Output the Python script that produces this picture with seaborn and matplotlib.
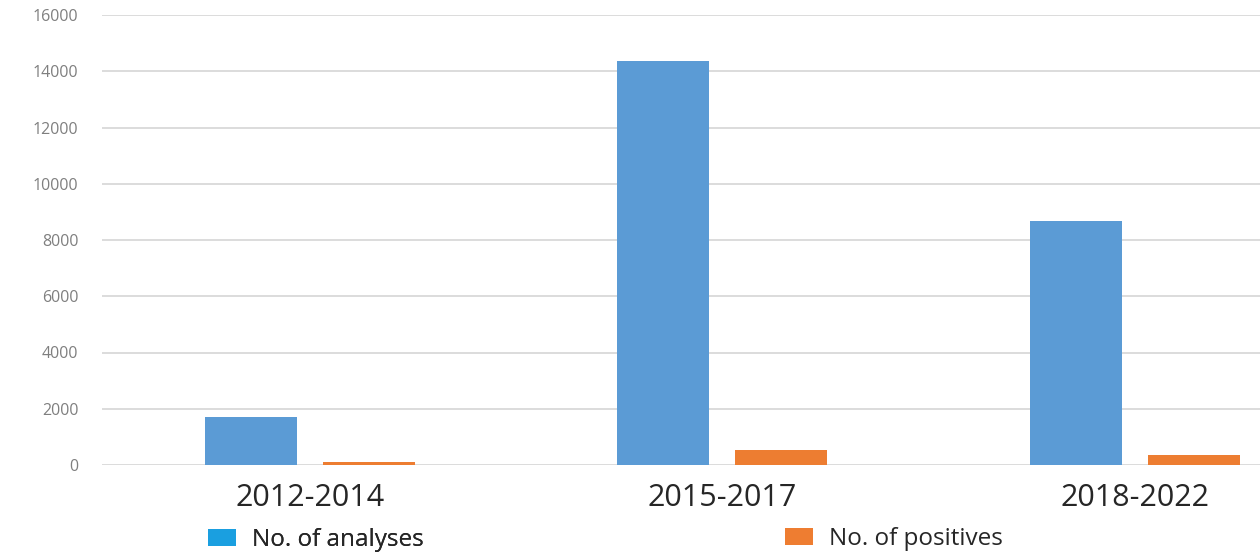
import matplotlib
matplotlib.use("Agg")
import matplotlib.pyplot as plt
from matplotlib.patches import Patch
import pandas as pd
import seaborn as sns

# Data
periods = ["2012-2014", "2015-2017", "2018-2022"]
series = ["No. of analyses", "No. of positives"]
analyses = [1690, 14350, 8680]
positives = [100, 530, 340]
y_ticks = [0, 2000, 4000, 6000, 8000, 10000, 12000, 14000, 16000]

bar_colors = ["#5b9bd5", "#ed7d31"]
legend_colors = ["#1a9fe0", "#ee7d31"]

df = pd.DataFrame({
    "period": periods * 2,
    "series": [series[0]] * 3 + [series[1]] * 3,
    "count": analyses + positives,
})

sns.set_theme(style="white")
plt.rcParams["font.family"] = ["Open Sans", "DejaVu Sans"]

fig = plt.figure(figsize=(12.6, 5.52), dpi=100)
ax = fig.add_axes([102 / 1260, 1 - 465 / 552, 1 - 102 / 1260, (465 - 15) / 552])

sns.barplot(data=df, x="period", y="count", hue="series", palette=bar_colors,
            width=0.572, gap=0.22, saturation=1, legend=False,
            linewidth=0, edgecolor="none", ax=ax)

ax.set_xlim(-0.504, 2.303)
ax.set_ylim(0, 16000)
ax.set_yticks(y_ticks)
ax.set_yticklabels([str(v) for v in y_ticks])
ax.yaxis.grid(True, color="#d9d9d9", linewidth=1.3)
ax.set_axisbelow(True)
for s in ax.spines.values():
    s.set_visible(False)
ax.set_xlabel("")
ax.set_ylabel("")
ax.tick_params(axis="y", length=0, pad=17, labelsize=11.5, labelcolor="#7f7f7f")
ax.tick_params(axis="x", length=0, pad=13, labelsize=22, labelcolor="#262626")

# Legend entries placed separately below the axis
common = dict(frameon=False, fontsize=17.5, handlelength=1.15, handleheight=0.7,
              handletextpad=0.65, labelcolor="#262626", borderpad=0,
              borderaxespad=0, loc="center left")
h1 = [Patch(facecolor=legend_colors[0], edgecolor="none")]
h2 = [Patch(facecolor=legend_colors[1], edgecolor="none")]
leg1 = fig.legend(h1, [series[0]], bbox_to_anchor=(208 / 1260, 1 - 540 / 552), **common)
leg2 = fig.legend(h2, [series[1]], bbox_to_anchor=(785 / 1260, 1 - 539 / 552), **common)
fig.add_artist(leg1)

fig.savefig("out.png", dpi=100)
